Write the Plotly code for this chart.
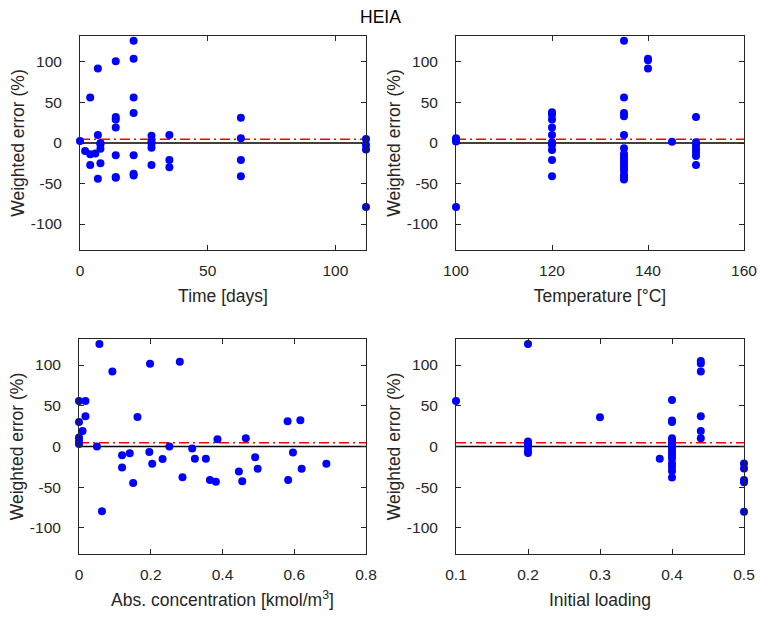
import plotly.graph_objects as go

# ---------------- data ----------------
time_days = [0, 2, 4, 4, 4, 6, 7, 7, 7, 8, 8, 8, 8,
             14, 14, 14, 14, 14, 14, 14,
             21, 21, 21, 21, 21, 21, 21,
             28, 28, 28, 28, 28,
             35, 35, 35,
             63, 63, 63, 63,
             112, 112, 112, 112]
time_err = [2.5, -10, -14, -27, 56, -13, 92, 10, -44, 0, -2, -7, -25,
            101, 32, 29, 19, -15, -42, -43,
            126, 104, 56, 37, -15, -38, -40,
            9, 2, -1, -6, -27,
            10, -21, -30,
            31, 6, -21, -41,
            5, -2.5, -8, -79]

temp_c = [100, 100, 100, 100,
          120, 120, 120, 120, 120, 120, 120, 120, 120, 120,
          135, 135, 135, 135, 135, 135, 135, 135, 135, 135, 135, 135, 135, 135, 135,
          140, 140, 140,
          145,
          150, 150, 150, 150, 150, 150, 150]
temp_err = [6, 4, 2, -79,
            38, 35, 29, 19, 10, 1, -2.5, -8.6, -21, -41,
            126, 56, 37, 33, 10, -6.5, -13.5, -17.6, -21.7, -25.8, -29.8, -34, -39.3, -42, -45,
            104, 102, 92,
            1.6,
            32, 1, -3, -8, -12, -16, -27]

conc = [0, 0.018, 0.018, 0, 0.01, 0, 0, 0, 0.05,
        0.057, 0.064, 0.093, 0.12, 0.12, 0.1415, 0.151, 0.163,
        0.198, 0.196, 0.204, 0.233, 0.252, 0.281, 0.2885, 0.3155, 0.323,
        0.3536, 0.365, 0.3815, 0.386, 0.4457, 0.455, 0.465, 0.491, 0.498,
        0.5815, 0.583, 0.5964, 0.617, 0.6206, 0.6895]
conc_err = [56, 56, 37, 30, 19, 11, 7, 3, 0,
            126, -79.6, 92, -10.6, -25.7, -8.2, -44.9, 36.3,
            101.6, -6.9, -21.2, -15.5, 0, 104, -37.9, -2.4, -15.1,
            -15.1, -41.2, -43.2, 9, -30.6, -42.8, 10.2, -13.1, -27.3,
            31, -41.2, -7.3, 32.2, -27.3, -21.2]

loading = [0.1,
           0.2, 0.2, 0.2, 0.2, 0.2, 0.2,
           0.3, 0.383,
           0.4, 0.4, 0.4, 0.4, 0.4, 0.4, 0.4, 0.4, 0.4, 0.4, 0.4, 0.4, 0.4, 0.4, 0.4, 0.4,
           0.44, 0.44, 0.44, 0.44, 0.44, 0.44,
           0.5, 0.5, 0.5, 0.5, 0.5]
loading_err = [56,
               126, 6, 3, 0, -5, -8,
               36, -15,
               57, 32, 30, 10, 8, 5, 2, -1, -4, -7, -11, -15, -21, -25, -30, -38,
               105, 102, 92, 37, 19, 10,
               -21, -27, -41, -44, -80]

mean_err = 4.5
y_lim = [-132, 132]
y_ticks = [-100, -50, 0, 50, 100]

panels = [
    dict(x=time_days, y=time_err, xr=[0, 112], xt=[0, 50, 100], xl=["0", "50", "100"],
         title="Time [days]"),
    dict(x=temp_c, y=temp_err, xr=[100, 160], xt=[100, 120, 140, 160], xl=["100", "120", "140", "160"],
         title="Temperature [°C]"),
    dict(x=conc, y=conc_err, xr=[0, 0.8], xt=[0, 0.2, 0.4, 0.6, 0.8], xl=["0", "0.2", "0.4", "0.6", "0.8"],
         title="Abs. concentration [kmol/m<sup>3</sup>]"),
    dict(x=loading, y=loading_err, xr=[0.1, 0.5], xt=[0.1, 0.2, 0.3, 0.4, 0.5], xl=["0.1", "0.2", "0.3", "0.4", "0.5"],
         title="Initial loading"),
]

W, H = 760, 622
# pixel boxes (left, right, top, bottom)
boxes = [(80, 366, 36, 250), (456, 744, 36, 250), (79, 366, 339, 554), (456, 744, 339, 554)]

FONT = "Liberation Sans, Arial, sans-serif"
AX_COL = "#262626"

fig = go.Figure()
layout = dict(
    width=W, height=H, margin=dict(l=0, r=0, t=0, b=0, autoexpand=False),
    paper_bgcolor="white", plot_bgcolor="white", showlegend=False,
    font=dict(family=FONT, size=15, color=AX_COL),
    shapes=[],
)

for i, (p, b) in enumerate(zip(panels, boxes)):
    n = "" if i == 0 else str(i + 1)
    xa, ya = "x" + n, "y" + n
    fig.add_trace(go.Scatter(x=p["x"], y=p["y"], mode="markers", xaxis=xa, yaxis=ya, cliponaxis=False,
                             marker=dict(color="#0000FF", size=8, line=dict(width=0))))
    l, r, t, bt = b
    common = dict(showline=True, linecolor=AX_COL, linewidth=1, mirror="ticks", automargin=False,
                  ticks="inside", ticklen=5, tickcolor=AX_COL, showgrid=False, zeroline=False,
                  tickfont=dict(size=15.5, color=AX_COL, family=FONT))
    layout["xaxis" + n] = dict(domain=[l / W, r / W], range=p["xr"], anchor=ya,
                               tickvals=p["xt"], ticktext=p["xl"], ticklabelstandoff=6,
                               title=dict(text=p["title"], font=dict(size=17.5, color=AX_COL, family=FONT),
                                          standoff=12), **common)
    layout["yaxis" + n] = dict(domain=[1 - bt / H, 1 - t / H], range=y_lim, anchor=xa,
                               tickvals=y_ticks, ticktext=[str(v) for v in y_ticks], ticklabelstandoff=14,
                               title=dict(text="Weighted error (%)", font=dict(size=17.5, color=AX_COL, family=FONT),
                                          standoff=1), **common)
    xdom = xa + " domain"
    layout["shapes"].append(dict(type="line", xref=xdom, yref=ya, x0=0, x1=1, y0=0, y1=0,
                                 line=dict(color="black", width=1.5), layer="below"))
    layout["shapes"].append(dict(type="line", xref=xdom, yref=ya, x0=0, x1=1, y0=mean_err, y1=mean_err,
                                 line=dict(color="#FF0000", width=1.5, dash="10px,4px,2px,4px"), layer="below"))

layout["annotations"] = [dict(text="HEIA", x=0.5, y=1 - 17 / H, xref="paper", yref="paper",
                              showarrow=False, font=dict(size=17.5, color="black", family=FONT),
                              xanchor="center", yanchor="middle")]

fig.update_layout(**layout)
fig.write_html("out.html")
